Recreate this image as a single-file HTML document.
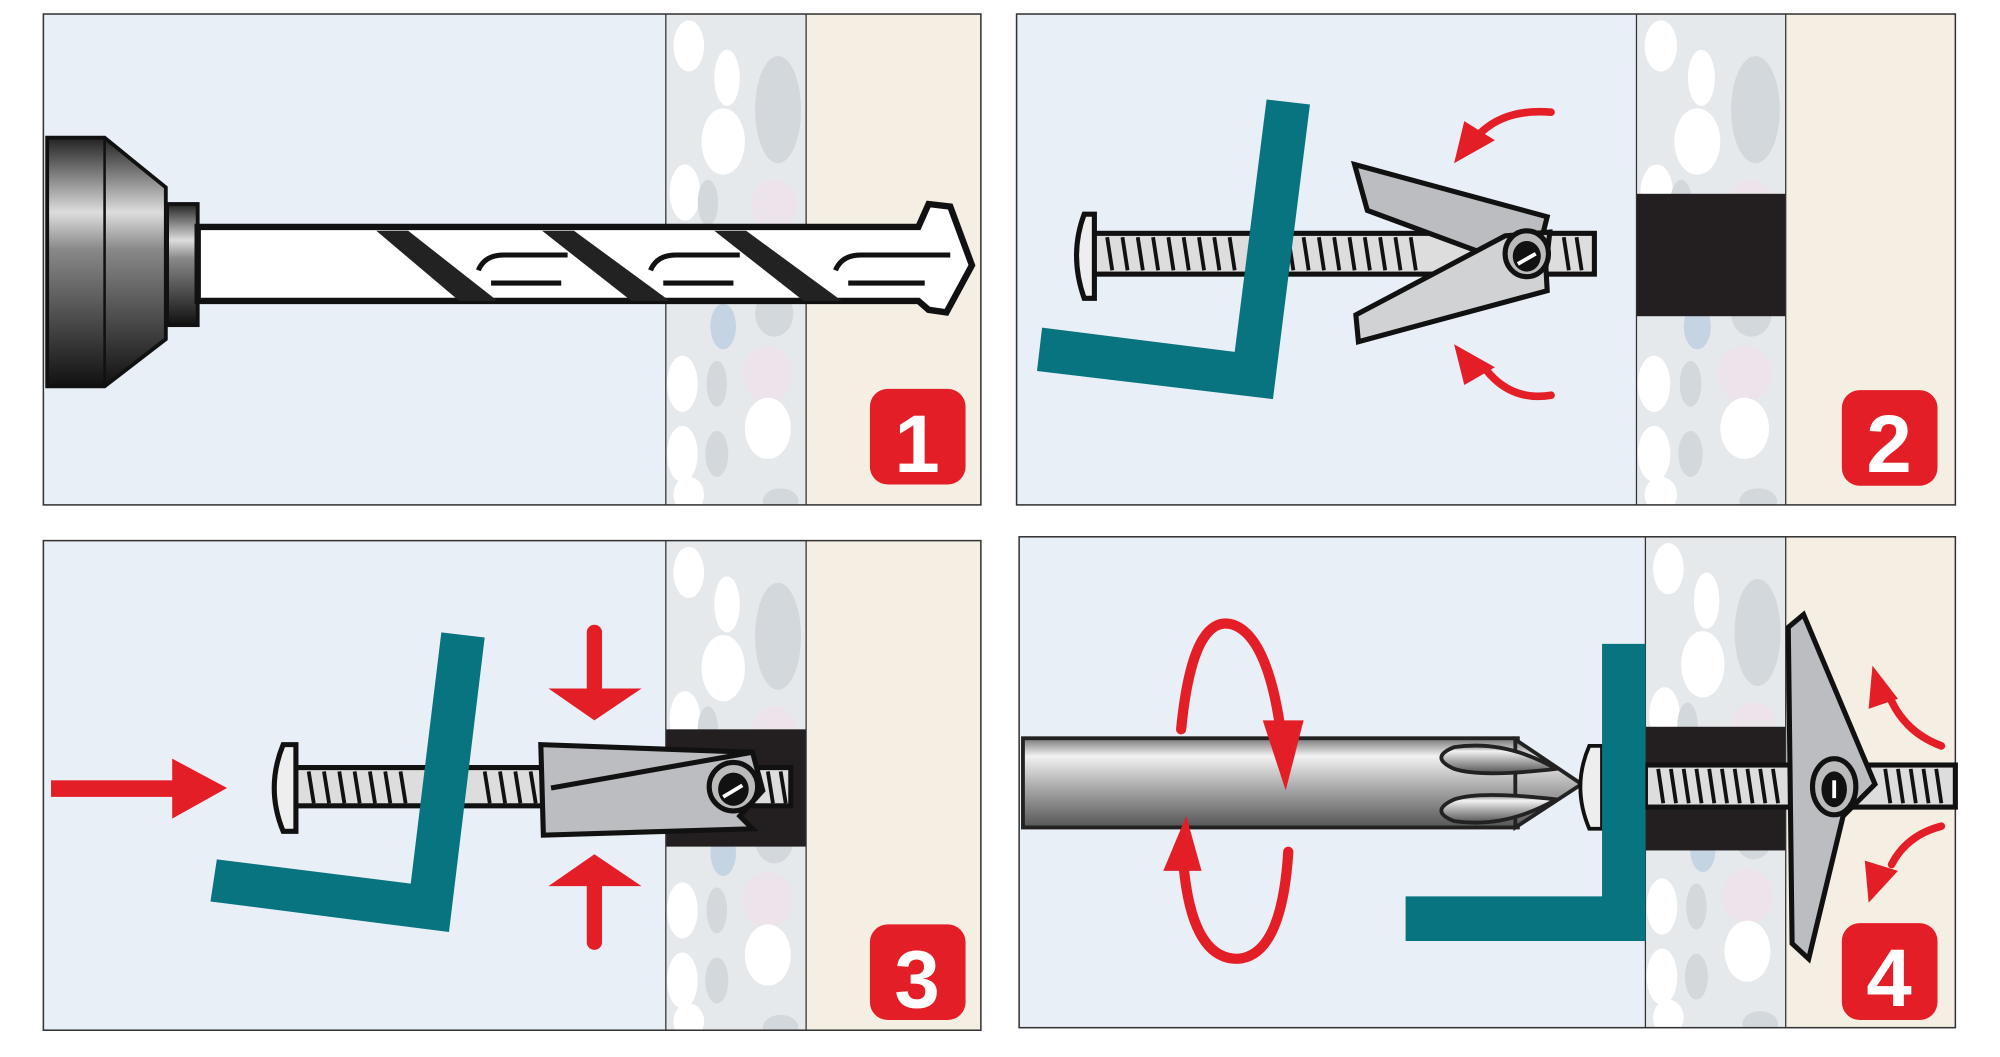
<!DOCTYPE html>
<html><head><meta charset="utf-8"><style>html,body{margin:0;padding:0;background:#fff}svg{display:block}</style></head>
<body>
<svg width="2000" height="1057" viewBox="0 0 1568 829" preserveAspectRatio="none" xmlns="http://www.w3.org/2000/svg">
<defs>
<linearGradient id="chk" x1="0" y1="0" x2="0" y2="1">
<stop offset="0" stop-color="#222"/><stop offset="0.3" stop-color="#ddd"/><stop offset="0.45" stop-color="#888"/><stop offset="1" stop-color="#111"/></linearGradient>
<linearGradient id="sd" x1="0" y1="0" x2="0" y2="1">
<stop offset="0" stop-color="#777"/><stop offset="0.2" stop-color="#f2f2f2"/><stop offset="0.55" stop-color="#aaa"/><stop offset="1" stop-color="#555"/></linearGradient>
<g id="mortar">
<rect x="0" y="0" width="110" height="385" fill="#e6e9ec"/>
<ellipse cx="88" cy="75" rx="18" ry="42" fill="#d3d8dc"/>
<ellipse cx="18" cy="25" rx="12" ry="20" fill="#fff"/>
<ellipse cx="48" cy="50" rx="10" ry="22" fill="#fff"/>
<ellipse cx="45" cy="100" rx="17" ry="26" fill="#fff"/>
<ellipse cx="15" cy="140" rx="12" ry="22" fill="#fff"/>
<ellipse cx="33" cy="148" rx="8" ry="18" fill="#d3d8dc"/>
<ellipse cx="85" cy="150" rx="18" ry="20" fill="#ece4ea"/>
<ellipse cx="5" cy="195" rx="8" ry="20" fill="#c4d4e2"/>
<ellipse cx="40" cy="195" rx="14" ry="22" fill="#d3d8dc"/>
<ellipse cx="78" cy="200" rx="16" ry="18" fill="#fff"/>
<ellipse cx="45" cy="245" rx="10" ry="18" fill="#c4d4e2"/>
<ellipse cx="85" cy="235" rx="15" ry="18" fill="#d3d8dc"/>
<ellipse cx="13" cy="290" rx="12" ry="22" fill="#fff"/>
<ellipse cx="40" cy="290" rx="8" ry="18" fill="#d3d8dc"/>
<ellipse cx="80" cy="282" rx="20" ry="22" fill="#ece4ea"/>
<ellipse cx="13" cy="345" rx="12" ry="22" fill="#fff"/>
<ellipse cx="40" cy="345" rx="9" ry="18" fill="#d3d8dc"/>
<ellipse cx="80" cy="325" rx="18" ry="24" fill="#fff"/>
<ellipse cx="18" cy="377" rx="12" ry="14" fill="#fff"/>
<ellipse cx="90" cy="382" rx="14" ry="10" fill="#d3d8dc"/>
</g>
<clipPath id="c1"><rect x="522" y="11" width="110" height="385"/></clipPath>
<clipPath id="c2"><rect x="1283" y="11" width="117" height="385"/></clipPath>
<clipPath id="c3"><rect x="522" y="424" width="110" height="384"/></clipPath>
<clipPath id="c4"><rect x="1290" y="421" width="110" height="385"/></clipPath>
</defs>
<rect width="1568" height="829" fill="#fff"/>

<!-- PANEL 1 -->
<rect x="34" y="11" width="735" height="385" fill="#e9eff6"/>
<rect x="632" y="11" width="137" height="385" fill="#f5efe3"/>
<g clip-path="url(#c1)"><use href="#mortar" transform="translate(522,11)"/></g>
<rect x="34" y="11" width="735" height="385" fill="none" stroke="#333" stroke-width="1.2"/>
<line x1="522" y1="11" x2="522" y2="396" stroke="#333" stroke-width="1"/>
<line x1="632" y1="11" x2="632" y2="396" stroke="#333" stroke-width="1"/>
<polygon points="37,108 82,108 130,147 130,266 82,303 37,303" fill="url(#chk)" stroke="#111" stroke-width="3"/>
<line x1="82" y1="108" x2="82" y2="303" stroke="#111" stroke-width="2"/>
<rect x="131" y="160" width="24" height="95" fill="url(#chk)" stroke="#111" stroke-width="3"/>
<path d="M155,178 L720,178 L728,160 L745,162 L762,208 L742,245 L728,243 L720,236 L155,236 Z" fill="#fff" stroke="#111" stroke-width="5"/>
<g fill="#222">
<polygon points="295,181 320,181 390,236 360,236"/>
<polygon points="425,181 450,181 525,236 495,236"/>
<polygon points="560,181 585,181 660,236 630,236"/>
</g>
<g fill="none" stroke="#111" stroke-width="4">
<path d="M375,212 Q380,200 395,200 L445,200"/><path d="M385,222 L440,222"/>
<path d="M510,212 Q515,200 530,200 L580,200"/><path d="M520,222 L575,222"/>
<path d="M655,212 Q660,200 675,200 L745,200"/><path d="M665,222 L725,222"/>
</g>
<rect x="682" y="305" width="75" height="75" rx="14" fill="#e41e26"/>
<text x="719" y="370" font-family="Liberation Sans, sans-serif" font-weight="bold" font-size="64" fill="#fff" text-anchor="middle">1</text>

<!-- PANEL 2 -->
<rect x="797" y="11" width="736" height="385" fill="#e9eff6"/>
<rect x="1400" y="11" width="133" height="385" fill="#f5efe3"/>
<g clip-path="url(#c2)"><use href="#mortar" transform="translate(1283,11) scale(1.06,1)"/></g>
<rect x="1283" y="152" width="117" height="96" fill="#231f20"/>
<rect x="797" y="11" width="736" height="385" fill="none" stroke="#333" stroke-width="1.2"/>
<line x1="1283" y1="11" x2="1283" y2="396" stroke="#333"/><line x1="1400" y1="11" x2="1400" y2="396" stroke="#333"/>
<rect x="857" y="183" width="393" height="32" fill="#ddd" stroke="#111" stroke-width="4"/>
<g stroke="#111" stroke-width="3">
<line x1="868" y1="186" x2="872" y2="212"/><line x1="880" y1="186" x2="884" y2="212"/><line x1="892" y1="186" x2="896" y2="212"/><line x1="904" y1="186" x2="908" y2="212"/><line x1="916" y1="186" x2="920" y2="212"/><line x1="928" y1="186" x2="932" y2="212"/><line x1="940" y1="186" x2="944" y2="212"/><line x1="952" y1="186" x2="956" y2="212"/><line x1="964" y1="186" x2="968" y2="212"/><line x1="1010" y1="186" x2="1014" y2="212"/><line x1="1022" y1="186" x2="1026" y2="212"/><line x1="1034" y1="186" x2="1038" y2="212"/><line x1="1046" y1="186" x2="1050" y2="212"/><line x1="1058" y1="186" x2="1062" y2="212"/><line x1="1070" y1="186" x2="1074" y2="212"/><line x1="1082" y1="186" x2="1086" y2="212"/><line x1="1094" y1="186" x2="1098" y2="212"/><line x1="1106" y1="186" x2="1110" y2="212"/><line x1="1226" y1="186" x2="1230" y2="212"/><line x1="1236" y1="186" x2="1240" y2="212"/>
</g>
<path d="M850,168 L858,168 L858,234 L850,234 Q838,200 850,168 Z" fill="#eee" stroke="#111" stroke-width="4"/>
<polygon points="993,78 1027,82 998,313 813,291 817,257 968,276" fill="#087480"/>
<polygon points="1062,129 1213,170 1210,182 1180,205 1072,165" fill="#bbbdc0" stroke="#111" stroke-width="4"/>
<polygon points="1063,247 1180,185 1215,182 1212,210 1213,228 1065,268" fill="#d0d2d4" stroke="#111" stroke-width="4"/>
<ellipse cx="1197" cy="199" rx="17" ry="18" fill="#bbb" stroke="#111" stroke-width="4"/>
<ellipse cx="1197" cy="201" rx="11" ry="12" fill="#111"/>
<line x1="1190" y1="207" x2="1204" y2="199" stroke="#fff" stroke-width="3"/>
<path d="M1216,88 Q1180,85 1160,105" fill="none" stroke="#e41e26" stroke-width="6" stroke-linecap="round"/>
<polygon points="1140,128 1148,95 1172,110" fill="#e41e26"/>
<path d="M1216,310 Q1185,315 1165,290" fill="none" stroke="#e41e26" stroke-width="6" stroke-linecap="round"/>
<polygon points="1140,270 1148,302 1172,288" fill="#e41e26"/>
<rect x="1444" y="306" width="75" height="75" rx="14" fill="#e41e26"/>
<text x="1481" y="370" font-family="Liberation Sans, sans-serif" font-weight="bold" font-size="64" fill="#fff" text-anchor="middle">2</text>

<!-- PANEL 3 -->
<rect x="34" y="424" width="735" height="384" fill="#e9eff6"/>
<rect x="632" y="424" width="137" height="384" fill="#f5efe3"/>
<g clip-path="url(#c3)"><use href="#mortar" transform="translate(522,424)"/></g>
<rect x="522" y="572" width="110" height="92" fill="#231f20"/>
<rect x="34" y="424" width="735" height="384" fill="none" stroke="#333" stroke-width="1.2"/>
<line x1="522" y1="424" x2="522" y2="808" stroke="#333"/><line x1="632" y1="424" x2="632" y2="808" stroke="#333"/>
<rect x="40" y="612" width="96" height="13" fill="#e41e26"/>
<polygon points="135,595 178,618 135,642" fill="#e41e26"/>
<rect x="230" y="602" width="390" height="30" fill="#ddd" stroke="#111" stroke-width="4"/>
<g stroke="#111" stroke-width="3">
<line x1="242" y1="605" x2="246" y2="630"/><line x1="254" y1="605" x2="258" y2="630"/><line x1="266" y1="605" x2="270" y2="630"/><line x1="278" y1="605" x2="282" y2="630"/><line x1="290" y1="605" x2="294" y2="630"/><line x1="302" y1="605" x2="306" y2="630"/><line x1="314" y1="605" x2="318" y2="630"/><line x1="380" y1="605" x2="384" y2="630"/><line x1="392" y1="605" x2="396" y2="630"/><line x1="404" y1="605" x2="408" y2="630"/><line x1="416" y1="605" x2="420" y2="630"/><line x1="602" y1="605" x2="606" y2="630"/><line x1="612" y1="605" x2="616" y2="630"/>
</g>
<path d="M222,584 L232,584 L232,652 L222,652 Q208,618 222,584 Z" fill="#eee" stroke="#111" stroke-width="4"/>
<polygon points="346,496 380,500 352,731 165,707 170,674 322,693" fill="#087480"/>
<polygon points="424,584 590,590 598,620 580,640 590,650 426,655" fill="#bbbdc0" stroke="#111" stroke-width="4"/>
<path d="M432,618 L590,590" stroke="#111" stroke-width="4"/>
<ellipse cx="575" cy="617" rx="19" ry="19" fill="#bbb" stroke="#111" stroke-width="4"/>
<ellipse cx="575" cy="619" rx="12" ry="13" fill="#111"/>
<line x1="567" y1="625" x2="582" y2="616" stroke="#fff" stroke-width="3"/>
<rect x="460" y="490" width="12" height="55" rx="6" fill="#e41e26"/>
<polygon points="430,540 503,540 466,565" fill="#e41e26"/>
<rect x="460" y="690" width="12" height="55" rx="6" fill="#e41e26"/>
<polygon points="430,695 503,695 466,670" fill="#e41e26"/>
<rect x="682" y="725" width="75" height="75" rx="14" fill="#e41e26"/>
<text x="719" y="790" font-family="Liberation Sans, sans-serif" font-weight="bold" font-size="64" fill="#fff" text-anchor="middle">3</text>

<!-- PANEL 4 -->
<rect x="799" y="421" width="734" height="385" fill="#e9eff6"/>
<rect x="1400" y="421" width="133" height="385" fill="#f5efe3"/>
<g clip-path="url(#c4)"><use href="#mortar" transform="translate(1290,421)"/></g>
<rect x="1290" y="570" width="110" height="97" fill="#231f20"/>
<rect x="799" y="421" width="734" height="385" fill="none" stroke="#333" stroke-width="1.2"/>
<line x1="1290" y1="421" x2="1290" y2="806" stroke="#333"/><line x1="1400" y1="421" x2="1400" y2="806" stroke="#333"/>
<rect x="1290" y="600" width="243" height="33" fill="#ddd" stroke="#111" stroke-width="4"/>
<g stroke="#111" stroke-width="3">
<line x1="1300" y1="603" x2="1304" y2="630"/><line x1="1310" y1="603" x2="1314" y2="630"/><line x1="1320" y1="603" x2="1324" y2="630"/><line x1="1330" y1="603" x2="1334" y2="630"/><line x1="1340" y1="603" x2="1344" y2="630"/><line x1="1350" y1="603" x2="1354" y2="630"/><line x1="1360" y1="603" x2="1364" y2="630"/><line x1="1370" y1="603" x2="1374" y2="630"/><line x1="1380" y1="603" x2="1384" y2="630"/><line x1="1390" y1="603" x2="1394" y2="630"/><line x1="1478" y1="603" x2="1482" y2="630"/><line x1="1488" y1="603" x2="1492" y2="630"/><line x1="1498" y1="603" x2="1502" y2="630"/><line x1="1508" y1="603" x2="1512" y2="630"/><line x1="1518" y1="603" x2="1522" y2="630"/>
</g>
<polygon points="1402,492 1414,482 1470,615 1445,640 1418,752 1405,740" fill="#bbbdc0" stroke="#111" stroke-width="4"/>
<ellipse cx="1438" cy="617" rx="17" ry="22" fill="#bbb" stroke="#111" stroke-width="4"/>
<ellipse cx="1438" cy="619" rx="10" ry="14" fill="#111"/>
<line x1="1438" y1="612" x2="1438" y2="626" stroke="#fff" stroke-width="3"/>
<rect x="802" y="579" width="388" height="70" fill="url(#sd)" stroke="#222" stroke-width="3"/>
<path d="M1188,580 L1240,615 L1188,649 Z" fill="url(#sd)" stroke="#222" stroke-width="3"/>
<path d="M1220,603 Q1160,610 1140,603 Q1120,594 1140,586 Q1180,580 1220,603 Z" fill="url(#sd)" stroke="#222" stroke-width="3"/>
<path d="M1220,627 Q1160,620 1140,627 Q1120,636 1140,644 Q1180,650 1220,627 Z" fill="url(#sd)" stroke="#222" stroke-width="3"/>
<path d="M1246,585 L1256,585 L1256,650 L1246,650 Q1232,617 1246,585 Z" fill="#eee" stroke="#111" stroke-width="3"/>
<polygon points="1256,505 1290,505 1290,738 1102,738 1102,703 1256,703" fill="#087480"/>
<path d="M926,572 Q935,480 967,490 Q995,500 1005,580" fill="none" stroke="#e41e26" stroke-width="8" stroke-linecap="round"/>
<polygon points="990,565 1022,565 1008,620" fill="#e41e26"/>
<path d="M1010,668 Q1005,750 970,752 Q935,752 928,680" fill="none" stroke="#e41e26" stroke-width="8" stroke-linecap="round"/>
<polygon points="912,683 942,683 930,640" fill="#e41e26"/>
<path d="M1522,585 Q1495,575 1483,550" fill="none" stroke="#e41e26" stroke-width="6" stroke-linecap="round"/>
<polygon points="1468,522 1465,556 1488,548" fill="#e41e26"/>
<path d="M1522,648 Q1495,655 1483,678" fill="none" stroke="#e41e26" stroke-width="6" stroke-linecap="round"/>
<polygon points="1465,708 1462,675 1488,683" fill="#e41e26"/>
<rect x="1444" y="724" width="75" height="76" rx="14" fill="#e41e26"/>
<text x="1481" y="789" font-family="Liberation Sans, sans-serif" font-weight="bold" font-size="64" fill="#fff" text-anchor="middle">4</text>
</svg>
</body></html>
